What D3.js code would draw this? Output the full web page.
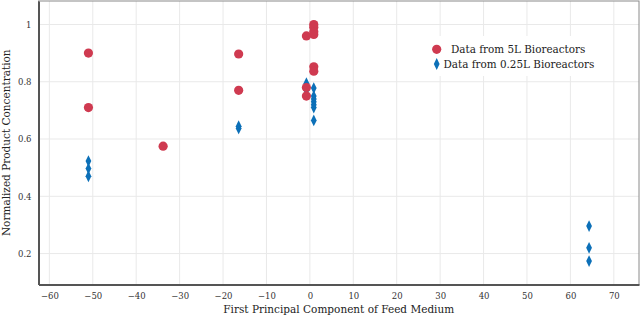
<!DOCTYPE html>
<html>
<head>
<meta charset="utf-8">
<script src="https://cdn.jsdelivr.net/npm/d3@7"></script>
<style>
  body { margin: 0; background: #fff; }
  svg text { font-family: "DejaVu Serif", serif; }
</style>
</head>
<body>
<script>
// data
const bigX = [-51, -51, -33.8, -16.4, -16.4, -0.8, -0.8, -0.8, 0.9, 0.9, 0.9, 0.9, 0.9, 0.9]
const bigY = [0.90, 0.71, 0.575, 0.897, 0.77, 0.96, 0.78, 0.75, 1.0, 0.99, 0.975, 0.965, 0.852, 0.837]
const smallX = [-51, -51, -51, -16.4, -16.4, -0.8, -0.8, -0.8, 0.9, 0.9, 0.9, 0.9, 0.9, 0.9, 0.9, 64.3, 64.3, 64.3]
const smallY = [0.523, 0.497, 0.47, 0.645, 0.637, 0.795, 0.785, 0.77, 0.778, 0.75, 0.74, 0.73, 0.72, 0.71, 0.665, 0.296, 0.22, 0.174]
const xTicks = [-60, -50, -40, -30, -20, -10, 0, 10, 20, 30, 40, 50, 60, 70]
const yTicks = [0.2, 0.4, 0.6, 0.8, 1]
const seriesNames = ["Data from 5L Bioreactors", "Data from 0.25L Bioreactors"]

const width = 640, height = 316
const margin = {top: 1, right: 1, bottom: 31.5, left: 38.5}
const red = "#cf3a50", blue = "#0c70b8"

const x = d3.scaleLinear().domain([-62.5, 75.8]).range([margin.left, width - margin.right])
const y = d3.scaleLinear().domain([0.092, 1.082]).range([height - margin.bottom, margin.top])

const svg = d3.select("body").append("svg")
    .attr("width", width)
    .attr("height", height)
    .attr("viewBox", [0, 0, width, height])

// grid
svg.append("g")
    .attr("stroke", "#e9e9e9")
    .call(g => g.selectAll("line.vx").data(xTicks).join("line")
        .attr("x1", d => x(d)).attr("x2", d => x(d))
        .attr("y1", margin.top).attr("y2", height - margin.bottom))
    .call(g => g.selectAll("line.hy").data(yTicks).join("line")
        .attr("y1", d => y(d)).attr("y2", d => y(d))
        .attr("x1", margin.left).attr("x2", width - margin.right))

// frame (top/right light)
svg.append("rect")
    .attr("x", margin.left).attr("y", margin.top)
    .attr("width", width - margin.left - margin.right)
    .attr("height", height - margin.top - margin.bottom)
    .attr("fill", "none").attr("stroke", "#8a8a8a").attr("stroke-width", 1)

const xAxis = d3.axisBottom(x).tickValues(xTicks).tickSize(0).tickPadding(8)
const yAxis = d3.axisLeft(y).tickValues(yTicks).tickSize(0).tickPadding(7).tickFormat(d3.format("~g"))

svg.append("g")
    .attr("transform", `translate(0,${height - margin.bottom})`)
    .call(xAxis)
    .attr("font-family", null)
    .call(g => g.select(".domain").attr("stroke", "#555").attr("stroke-width", 2))
    .call(g => g.selectAll("text").attr("font-size", 8.5).attr("fill", "#333"))

svg.append("g")
    .attr("transform", `translate(${margin.left},0)`)
    .call(yAxis)
    .attr("font-family", null)
    .call(g => g.select(".domain").attr("stroke", "#555").attr("stroke-width", 2))
    .call(g => g.selectAll("text").attr("font-size", 8.5).attr("fill", "#333"))

// axis titles
svg.append("text")
    .attr("x", (margin.left + width - margin.right) / 2)
    .attr("y", 313)
    .attr("text-anchor", "middle")
    .attr("font-size", 10.5)
    .attr("fill", "#222")
    .text("First Principal Component of Feed Medium")

svg.append("text")
    .attr("transform", `translate(10,${(margin.top + height - margin.bottom) / 2}) rotate(-90)`)
    .attr("text-anchor", "middle")
    .attr("font-size", 10.5)
    .attr("fill", "#222")
    .text("Normalized Product Concentration")

const diamond = d3.symbol().type(d3.symbolDiamond).size(40)

// 0.25L series (drawn first)
svg.append("g").attr("fill", blue)
  .selectAll("path").data(d3.range(smallX.length)).join("path")
    .attr("transform", i => `translate(${x(smallX[i])},${y(smallY[i])}) scale(0.85,1)`)
    .attr("d", diamond)

// 5L series
svg.append("g").attr("fill", red)
  .selectAll("circle").data(d3.range(bigX.length)).join("circle")
    .attr("cx", i => x(bigX[i]))
    .attr("cy", i => y(bigY[i]))
    .attr("r", 4.6)

// legend
const leg = svg.append("g")
leg.append("rect")
    .attr("x", 428).attr("y", 36).attr("width", 172).attr("height", 40)
    .attr("fill", "#fff")
leg.append("circle").attr("cx", 436.7).attr("cy", 49.3).attr("r", 4.6).attr("fill", red)
leg.append("path").attr("d", diamond)
    .attr("transform", "translate(436.7,64) scale(0.85,1)").attr("fill", blue)
leg.append("text").attr("x", 451).attr("y", 53)
    .attr("font-size", 10.4).attr("fill", "#222").text(seriesNames[0])
leg.append("text").attr("x", 443.5).attr("y", 68)
    .attr("font-size", 10.4).attr("fill", "#222").text(seriesNames[1])
</script>
</body>
</html>
